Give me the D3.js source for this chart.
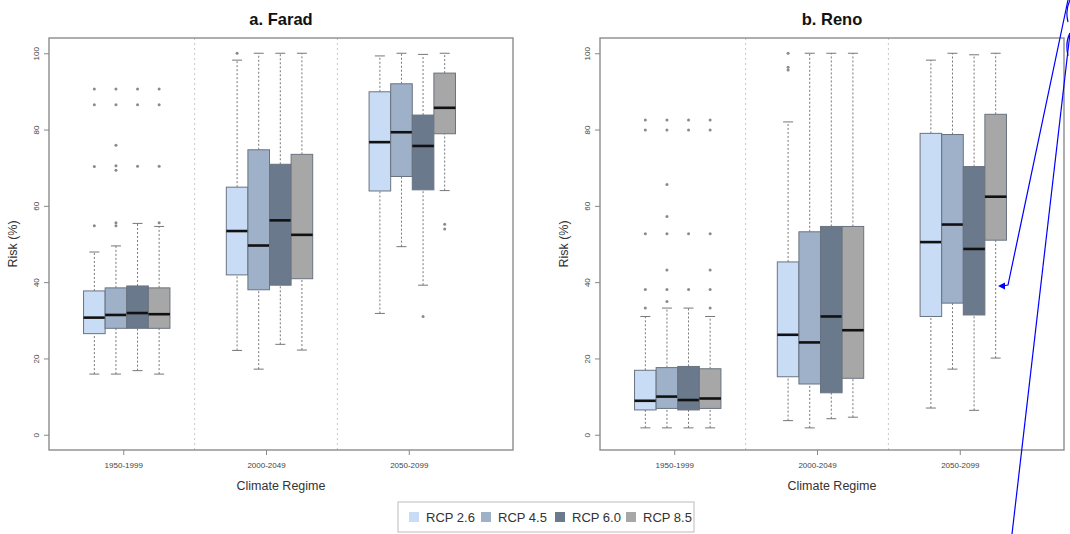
<!DOCTYPE html>
<html>
<head>
<meta charset="utf-8">
<script src="https://cdn.jsdelivr.net/npm/d3@7"></script>
<style>
  body { margin: 0; background: #fff; }
  svg { display: block; font-family: "Liberation Sans", Arial, sans-serif; }
</style>
</head>
<body>
<div id="chart"></div>
<script>
const periods = ["1950-1999", "2000-2049", "2050-2099"];
const scenarios = ["RCP 2.6", "RCP 4.5", "RCP 6.0", "RCP 8.5"];
const scenarioColors = ["#c8dcf5", "#9eb1c9", "#6b798c", "#a7a7a7"];
const yTicks = [0, 20, 40, 60, 80, 100];

// Farad: [period][scenario]
const faradLo  = [[15.9, 15.9, 16.8, 15.9], [22.1, 17.2, 23.7, 22.2], [31.8, 49.3, 39.2, 64.0]];
const faradQ1  = [[26.5, 27.9, 27.9, 27.9], [41.9, 38.0, 39.2, 40.9], [63.9, 67.7, 64.2, 78.9]];
const faradMed = [[30.7, 31.4, 31.9, 31.6], [53.4, 49.6, 56.2, 52.4], [76.7, 79.3, 75.7, 85.7]];
const faradQ3  = [[37.7, 38.5, 39.0, 38.5], [64.9, 74.7, 70.9, 73.5], [89.9, 92.0, 83.8, 94.8]];
const faradHi  = [[47.9, 49.5, 55.4, 54.6], [98.2, 100, 100, 100], [99.3, 100, 99.7, 100]];
const faradOut = [
  [[54.8, 70.3, 86.5, 90.6], [54.8, 55.6, 69.3, 70.5, 75.9, 86.5, 90.6], [70.4, 86.5, 90.6], [55.6, 70.4, 86.5, 90.6]],
  [[100], [], [], []],
  [[], [], [31.0], [55.2, 53.9]]
];

// Reno: [period][scenario]
const renoLo  = [[1.8, 1.8, 1.8, 1.8], [3.7, 1.8, 4.2, 4.6], [7.0, 17.2, 6.4, 20.1]];
const renoQ1  = [[6.5, 6.9, 6.5, 6.9], [15.2, 13.3, 11.0, 14.8], [31.0, 34.5, 31.4, 51.0]];
const renoMed = [[8.9, 10.0, 9.1, 9.5], [26.2, 24.2, 31.0, 27.4], [50.5, 55.1, 48.7, 62.4]];
const renoQ3  = [[16.9, 17.6, 17.9, 17.3], [45.3, 53.2, 54.6, 54.6], [79.0, 78.7, 70.3, 84.0]];
const renoHi  = [[31.0, 33.2, 33.2, 31.0], [82.0, 100, 100, 100], [98.2, 100, 99.6, 100]];
const renoOut = [
  [[33.2, 38.1, 52.7, 79.9, 82.5], [34.9, 38.1, 43.2, 52.7, 57.2, 65.6, 79.9, 82.5], [38.1, 52.7, 79.9, 82.5], [33.2, 38.1, 43.2, 52.7, 79.9, 82.5]],
  [[95.6, 96.3, 100], [], [], []],
  [[], [], [], []]
];

const width = 1070, height = 534;
const svg = d3.select("#chart").append("svg").attr("width", width).attr("height", height);

const plotTop = 38, plotBottom = 450, plotW = 464;
const boxW = 21.6, boxShift = 3.5;

const y = d3.scaleLinear().domain([-4, 104]).range([plotBottom, plotTop]);

function drawPanel(left, title, lo, q1, med, q3, hi, out) {
  const x = d3.scaleLinear().domain([0.48, 3.73]).range([left, left + plotW]);
  const g = svg.append("g");

  // group separators
  [1.5, 2.5].forEach(s => {
    g.append("line")
      .attr("x1", x(s)).attr("x2", x(s))
      .attr("y1", plotTop).attr("y2", plotBottom)
      .attr("stroke", "#c8c8c8").attr("stroke-width", 1)
      .attr("stroke-dasharray", "2 3");
  });

  periods.forEach((p, gi) => {
    scenarios.forEach((s, si) => {
      const cx = x(gi + 1) + boxShift + (si - 1.5) * boxW;
      // whiskers
      [[q3[gi][si], hi[gi][si]], [lo[gi][si], q1[gi][si]]].forEach(([a, b]) => {
        g.append("line")
          .attr("x1", cx).attr("x2", cx)
          .attr("y1", y(a)).attr("y2", y(b))
          .attr("stroke", "#777").attr("stroke-width", 1)
          .attr("stroke-dasharray", "2 2");
      });
      [lo[gi][si], hi[gi][si]].forEach(v => {
        g.append("line")
          .attr("x1", cx - 5).attr("x2", cx + 5)
          .attr("y1", y(v)).attr("y2", y(v))
          .attr("stroke", "#777").attr("stroke-width", 1);
      });
      // box
      g.append("rect")
        .attr("x", cx - boxW / 2).attr("width", boxW)
        .attr("y", y(q3[gi][si])).attr("height", y(q1[gi][si]) - y(q3[gi][si]))
        .attr("fill", scenarioColors[si])
        .attr("stroke", "#6a7380").attr("stroke-width", 1);
      g.append("line")
        .attr("x1", cx - boxW / 2).attr("x2", cx + boxW / 2)
        .attr("y1", y(med[gi][si])).attr("y2", y(med[gi][si]))
        .attr("stroke", "#111").attr("stroke-width", 2.6);
      // outliers
      g.selectAll(null)
        .data(out[gi][si])
        .enter().append("circle")
        .attr("cx", cx).attr("cy", d => y(d))
        .attr("r", 1.5)
        .attr("fill", "#8a8a8a");
    });
  });

  // frame
  g.append("rect")
    .attr("x", left).attr("y", plotTop)
    .attr("width", plotW).attr("height", plotBottom - plotTop)
    .attr("fill", "none").attr("stroke", "#8c8c8c").attr("stroke-width", 1.4);

  // y axis
  const yAxis = d3.axisLeft(y).tickValues(yTicks).tickSize(5).tickFormat(d3.format("d"));
  const ya = g.append("g").attr("transform", `translate(${left},0)`).call(yAxis);
  ya.select(".domain").remove();
  ya.selectAll(".tick line").attr("stroke", "#888");
  ya.selectAll(".tick text")
    .attr("font-size", 8).attr("fill", "#444")
    .attr("font-family", "Liberation Sans, Arial, sans-serif")
    .attr("text-anchor", "middle")
    .attr("transform", "rotate(-90)")
    .attr("x", 0).attr("y", -13).attr("dy", "0.32em");

  // x axis
  const xAxis = d3.axisBottom(x).tickValues([1, 2, 3]).tickSize(5).tickFormat((d, i) => periods[i]);
  const xa = g.append("g").attr("transform", `translate(0,${plotBottom})`).call(xAxis);
  xa.select(".domain").remove();
  xa.selectAll(".tick line").attr("stroke", "#888");
  xa.selectAll(".tick text")
    .attr("font-size", 8).attr("fill", "#444")
    .attr("font-family", "Liberation Sans, Arial, sans-serif")
    .attr("y", 12);

  g.append("text")
    .attr("x", left + plotW / 2).attr("y", 490)
    .attr("text-anchor", "middle")
    .attr("font-size", 12.5).attr("fill", "#333")
    .text("Climate Regime");

  g.append("text")
    .attr("transform", `translate(${left - 32},${(plotTop + plotBottom) / 2}) rotate(-90)`)
    .attr("text-anchor", "middle")
    .attr("font-size", 12.5).attr("fill", "#333")
    .text("Risk (%)");

  g.append("text")
    .attr("x", left + plotW / 2).attr("y", 25)
    .attr("text-anchor", "middle")
    .attr("font-size", 16.5).attr("font-weight", "bold").attr("fill", "#111")
    .text(title);
}

drawPanel(49, "a. Farad", faradLo, faradQ1, faradMed, faradQ3, faradHi, faradOut);
drawPanel(600, "b. Reno", renoLo, renoQ1, renoMed, renoQ3, renoHi, renoOut);

// legend
const legend = svg.append("g");
legend.append("rect")
  .attr("x", 398).attr("y", 502).attr("width", 296).attr("height", 30)
  .attr("fill", "#fff").attr("stroke", "#bbb").attr("stroke-width", 1);
const legendX = [409, 481, 555, 626];
scenarios.forEach((s, i) => {
  legend.append("rect")
    .attr("x", legendX[i]).attr("y", 512).attr("width", 10).attr("height", 10)
    .attr("fill", scenarioColors[i]);
  legend.append("text")
    .attr("x", legendX[i] + 17).attr("y", 521.5)
    .attr("font-size", 13).attr("fill", "#333")
    .text(s);
});

// blue annotation strokes over the right edge
const ann = svg.append("g").attr("fill", "none").attr("stroke", "#0000ff").attr("stroke-width", 1.2);
ann.append("path").attr("d", "M1070,0 Q1065,10 1068,22");
ann.append("path").attr("d", "M1070,33 Q1065,42 1068,56");
ann.append("path").attr("d", "M1068,0 L1008,285 L1002,286");
ann.append("path").attr("d", "M1070,33 L1012,534");
svg.append("path").attr("d", "M998,286 L1005,282.5 L1005,289.5 Z").attr("fill", "#0000ff");
</script>
</body>
</html>
